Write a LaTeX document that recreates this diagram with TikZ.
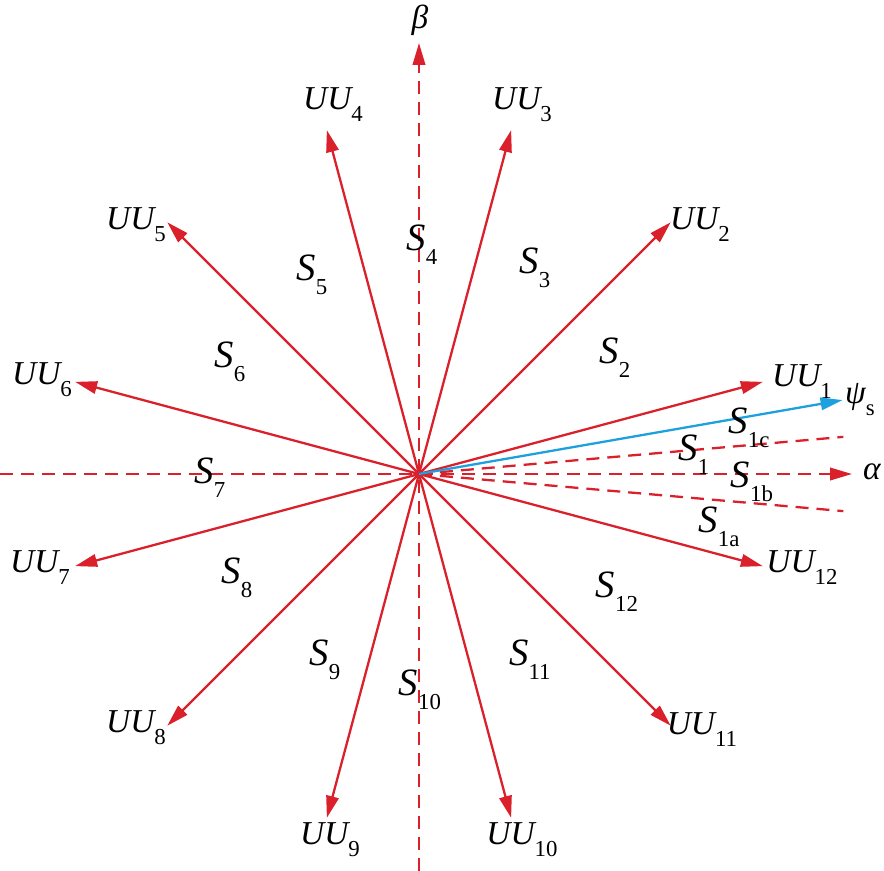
\documentclass[tikz,border=0pt]{standalone}
\usepackage{fontspec}
\setmainfont{Liberation Serif}
\usetikzlibrary{arrows.meta}

\definecolor{vecred}{RGB}{218,32,42}
\definecolor{fluxblue}{RGB}{28,160,222}
\newcommand{\lsub}[1]{\raisebox{-0.36em}{\fontsize{13}{13}\selectfont\upshape #1}}

\begin{document}
\begin{tikzpicture}[
		x = 0.2mm, y = 0.2mm,
		> = {Triangle[length=4.4mm,width=2.5mm]},
		vec/.style = {draw=vecred, line width=1.3pt, ->, fill=vecred},
		axis/.style = {draw=vecred, line width=1.3pt, dash pattern=on 2.6mm off 1.6mm, ->},
		sector/.style = {draw=vecred, line width=1.3pt, dash pattern=on 2.6mm off 1.6mm},
		flux/.style = {draw=fluxblue, line width=1.3pt, ->},
		lbl/.style = {inner sep=0pt, font=\fontsize{19}{21}\selectfont\itshape},
		slbl/.style = {inner sep=0pt, font=\fontsize{22}{24}\selectfont\itshape}
		]
		\useasboundingbox (-419,-397) rectangle (465,474);
		\coordinate (O) at (0,0);
		% axes
		\coordinate (A0) at (-419,0);
		\coordinate (A1) at (433,0);
		\coordinate (B0) at (0,-397);
		\coordinate (B1) at (0,431);
		\draw[axis] (A0) -- (A1);
		\draw[axis] (B0) -- (B1);
		\node[lbl] (alpha) at (453,2) {α};
		\node[lbl] (beta) at (1,454) {β};
		% voltage vectors
		\foreach \k/\lx/\ly in {1/383/92, 2/281/249, 3/103/369, 4/-86/369,
			5/-283/249, 6/-377/94, 7/-379/-94, 8/-283/-254,
			9/-89/-366, 10/103/-366, 11/283/-256, 12/383/-94} {
			\coordinate (T\k) at ({15+30*(\k-1)}:356);
			\draw[vec] (O) -- (T\k);
			\node[lbl] (UU\k) at (\lx,\ly) {UU\lsub{\k}};
		}
		% sector S1 split
		\coordinate (D1) at (5:426);
		\coordinate (D2) at (-5:426);
		\draw[sector] (O) -- (D1);
		\draw[sector] (O) -- (D2);
		\coordinate (P) at (9.9:430);
		\draw[flux] (O) -- (P);
		\node[lbl] (psi) at (441,74) {ψ\lsub{s}};
		% sector labels
		\foreach \k/\sx/\sy in {1/275/19, 1c/330/46, 1b/333/-8, 1a/300/-53,
			2/196/116, 3/116/206, 4/3/229, 5/-107/199, 6/-189/112,
			7/-209/-4, 8/-182/-104, 9/-94/-186, 10/1/-216,
			11/111/-186, 12/198/-118} {
			\node[slbl] (S\k) at (\sx,\sy) {S\lsub{\k}};
		}
\end{tikzpicture}
\end{document}
